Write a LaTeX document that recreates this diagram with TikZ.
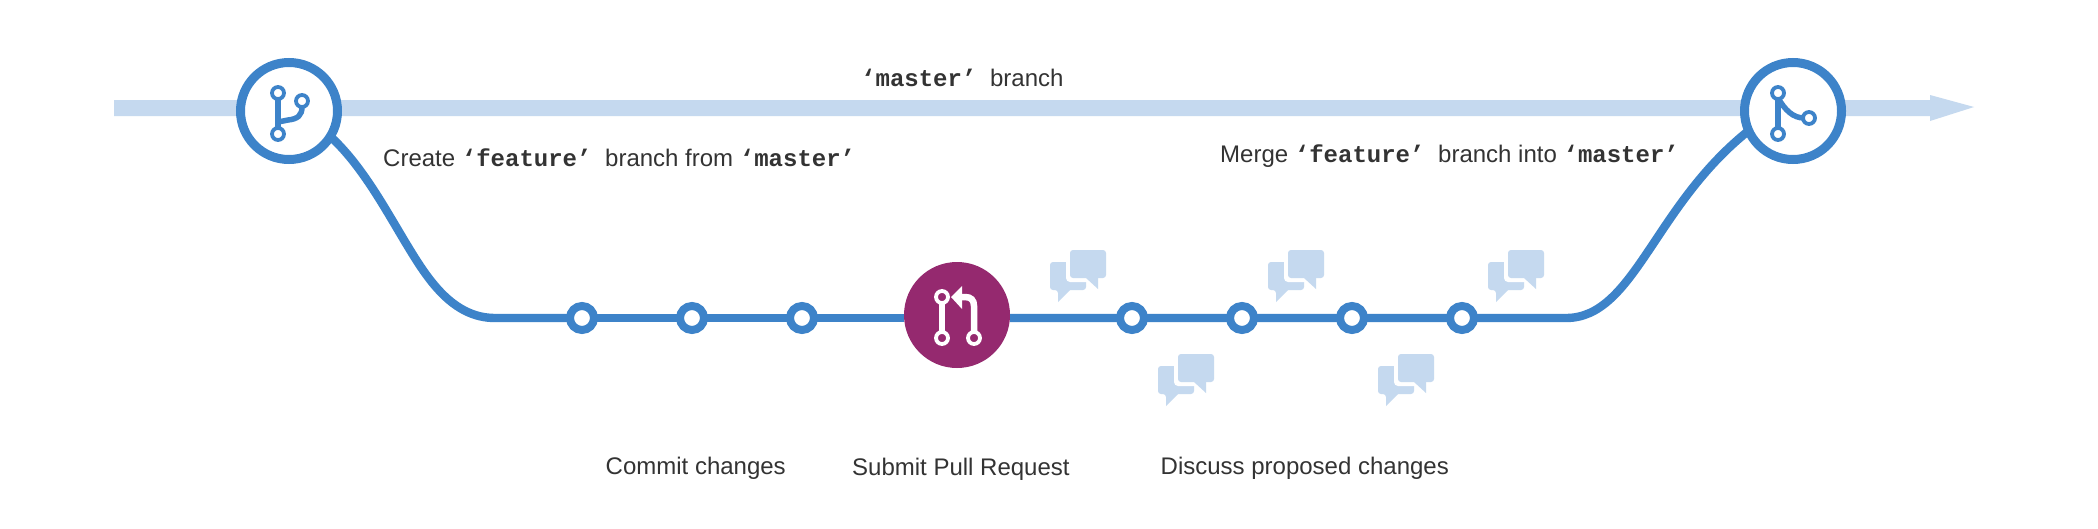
\documentclass[tikz,border=0pt]{standalone}
\usepackage{fontspec}
\setmainfont{Liberation Sans}
\setmonofont{Liberation Mono}
\definecolor{bl}{HTML}{3D83C9}
\definecolor{lb}{HTML}{C5D9EF}
\definecolor{pu}{HTML}{95296F}
\definecolor{tx}{HTML}{333333}
\newcommand{\cd}[1]{\texttt{\textbf{#1}}}
\begin{document}
\begin{tikzpicture}[x=1pt,y=-1pt,
  bigcirc/.style={circle,draw=bl,line width=9pt,fill=white,minimum size=97pt,inner sep=0pt,outer sep=0pt},
  commit/.style={circle,draw=bl,line width=8pt,fill=white,minimum size=24pt,inner sep=0pt,outer sep=0pt},
  prc/.style={circle,fill=pu,minimum size=106pt,inner sep=0pt,outer sep=0pt},
  lab/.style={anchor=base west,inner sep=0pt,text=tx,font=\fontsize{24}{28}\selectfont},
  flow/.style={draw=bl,line width=8.4pt},
  dot/.style={circle,inner sep=0pt,outer sep=0pt,minimum size=12pt,line width=3.8pt},
  stem/.style={line width=6.5pt},
  bubbles/.pic={
    \fill[lb,rounded corners=3pt] (0,12) -- (36,12) -- (36,40) -- (20,40) -- (8,40) -- (8,52) -- (8,40) -- (0,40) -- cycle;
    \fill[lb] (8,38) -- (8,52) -- (21,39) -- (21,38) -- cycle;
    \fill[white,rounded corners=4pt] (16,-4) rectangle (60,32);
    \fill[lb,rounded corners=3pt] (20,0) rectangle (56,28);
    \fill[lb] (36,26) -- (36,28) -- (48,39) -- (48,26) -- cycle;
  }]
\useasboundingbox (0,0) rectangle (2098,528);
\fill[white] (0,0) rectangle (2098,528);
% master band
\fill[lb] (114,100) -- (1930,100) -- (1930,95) -- (1974,107) -- (1930,121) -- (1930,116) -- (114,116) -- cycle;
% connectors sit under the nodes
\coordinate (fl) at (495,318);
\coordinate (fr) at (1566,318);
\coordinate (fa) at (332,138);
\coordinate (fb) at (1747,132);
\node[prc] (P) at (957,315) {};
\draw[flow] (fa) .. controls (363,167) and (387,212) .. (407,245) .. controls (427,278) and (452,318) .. (fl) -- (582,318);
\draw[flow] (582,318) -- (P.west |- 582,318);
\draw[flow] (P.east |- 1132,318) -- (fr) .. controls (1600,318) and (1622,290) .. (1647,253) .. controls (1672,216) and (1700,170) .. (fb);
% nodes
\node[bigcirc] (L) at (289,111) {};
\node[bigcirc] (R) at (1793,111) {};
\node[commit] (c1) at (582,318) {};
\node[commit] (c2) at (692,318) {};
\node[commit] (c3) at (802,318) {};
\node[commit] (d1) at (1132,318) {};
\node[commit] (d2) at (1242,318) {};
\node[commit] (d3) at (1352,318) {};
\node[commit] (d4) at (1462,318) {};
% left icon
\draw[bl,stem] (278,100) -- (278,128);
\draw[bl,line width=5.5pt] (278,122) -- (288,120) .. controls (298,119) and (302,115) .. (302,107);
\node[dot,draw=bl,fill=white] (i1) at (278,93) {};
\node[dot,draw=bl,fill=white] (i2) at (278,134) {};
\node[dot,draw=bl,fill=white] (i3) at (302,101) {};
% right icon
\draw[bl,stem] (1778,100) -- (1778,128);
\draw[bl,line width=5.5pt] (1778,98) .. controls (1785,110) and (1793,118) .. (1804,118);
\node[dot,draw=bl,fill=white] (j1) at (1778,93) {};
\node[dot,draw=bl,fill=white] (j2) at (1778,134) {};
\node[dot,draw=bl,fill=white] (j3) at (1809,118) {};
% PR icon
\draw[white,stem] (942,303) -- (942,332);
\draw[white,line width=6.5pt] (958,297) -- (965,297) .. controls (971,297) and (974,300) .. (974,306) -- (974,332);
\fill[white] (951,297) -- (962,286) -- (962,309) -- cycle;
\node[dot,draw=white,fill=pu] (k1) at (942,297) {};
\node[dot,draw=white,fill=pu] (k2) at (942,338) {};
\node[dot,draw=white,fill=pu] (k3) at (974,338) {};
% bubbles
\pic at (1050,250) {bubbles};
\pic at (1268,250) {bubbles};
\pic at (1488,250) {bubbles};
\pic at (1158,354) {bubbles};
\pic at (1378,354) {bubbles};
% labels
\node[lab] (t1) at (861,86) {\cd{‘master’}\hspace{7pt} branch};
\node[lab] (t2) at (383,166) {Create \cd{‘feature’}\hspace{7pt} branch from \cd{‘master’}};
\node[lab] (t3) at (1220,162) {Merge \cd{‘feature’}\hspace{7pt} branch into \cd{‘master’}};
\node[lab] (t4) at (605.5,474) {Commit changes};
\node[lab] (t5) at (852,475) {Submit Pull Request};
\node[lab] (t6) at (1160.5,474) {Discuss proposed changes};
\end{tikzpicture}
\end{document}
